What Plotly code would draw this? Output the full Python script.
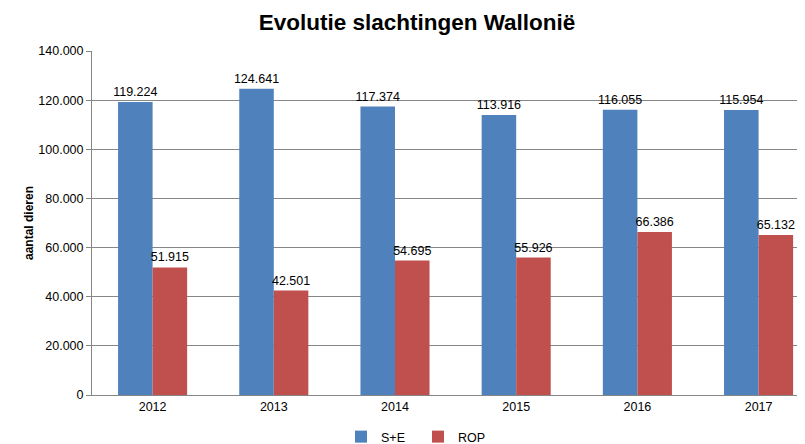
import plotly.graph_objects as go

years = ["2012", "2013", "2014", "2015", "2016", "2017"]
s_e = [119224, 124641, 117374, 113916, 116055, 115954]
rop = [51915, 42501, 54695, 55926, 66386, 65132]
y_ticks = [0, 20000, 40000, 60000, 80000, 100000, 120000, 140000]

font_family = "Liberation Sans, Arial, sans-serif"

# the page body has an 8px margin; figure is sized so the visible window matches
W, H = 797, 436

fig = go.Figure()
fig.add_trace(go.Bar(
    x=years, y=s_e, name="S+E", marker=dict(color="#4F81BD", line=dict(width=0)),
    texttemplate="%{y:,}", textposition="outside", constraintext="none",
    textfont=dict(size=12.5, color="#000000"), cliponaxis=False,
))
fig.add_trace(go.Bar(
    x=years, y=rop, name="ROP", marker=dict(color="#C0504D", line=dict(width=0)),
    texttemplate="%{y:,}", textposition="outside", constraintext="none",
    textfont=dict(size=12.5, color="#000000"), cliponaxis=False,
))

fig.update_layout(
    width=W, height=H,
    separators=",.",
    barmode="group", bargap=0.43, bargroupgap=0,
    paper_bgcolor="white", plot_bgcolor="white",
    font=dict(family=font_family, size=12.5, color="#000000"),
    margin=dict(l=84, r=0, t=43, b=49, autoexpand=False),
    title=dict(text="<b>Evolutie slachtingen Wallonië</b>", x=(417 - 8) / W, xanchor="center",
               y=1 - 14 / H, yanchor="middle", font=dict(size=22.5, color="#000000")),
    xaxis=dict(
        type="category", range=[-0.5, 5.383], showgrid=False,
        showline=True, linecolor="#868686", linewidth=1,
        ticks="", tickfont=dict(size=12.5),
    ),
    yaxis=dict(
        range=[0, 140000], tickvals=y_ticks, tickformat=",",
        showgrid=True, gridcolor="#868686", gridwidth=1,
        showline=True, linecolor="#868686", linewidth=1,
        ticks="outside", ticklen=5, tickcolor="#868686",
        tickfont=dict(size=12.5), zeroline=False,
        title=dict(text="<b>aantal dieren</b>", font=dict(size=12), standoff=2),
    ),
    legend=dict(
        orientation="h", xref="paper", x=(418 - 8 - 84) / 713, xanchor="center",
        yref="container", y=1 - (437 - 8) / H, yanchor="middle",
        font=dict(size=12.5), traceorder="normal",
        itemwidth=30, entrywidth=32, entrywidthmode="pixels",
    ),
)

fig.write_html("out.html")
